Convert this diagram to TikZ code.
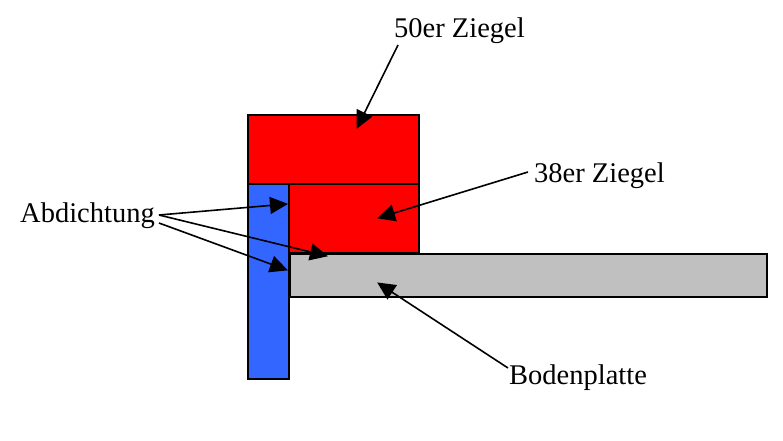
\documentclass[tikz,border=0pt]{standalone}
\usepackage{fontspec}
\setmainfont{Liberation Serif}
\usetikzlibrary{arrows.meta}
\tikzset{
 lbl/.style={inner sep=0pt,anchor=base west,font=\fontsize{28.5}{32}\selectfont},
 box/.style={draw=black,line width=2pt},
 arr/.style={draw=black,line width=1.6pt,-{Triangle[length=18pt,width=17pt]},shorten >=-1pt}
}
\begin{document}
\begin{tikzpicture}[x=1pt,y=-1pt]
\useasboundingbox (0,0) rectangle (783,440);
\fill[white] (0,0) rectangle (783,440);
\draw[box,fill={rgb,255:red,51;green,102;blue,255}] (247.5,183.5) rectangle (288.5,379);
\draw[box,fill=red] (248,115) rectangle (419,183.5);
\draw[box,fill=red] (289,183.5) rectangle (418.5,252.5);
\draw[box,fill={rgb,255:red,192;green,192;blue,192}] (289.5,254) rectangle (766.5,297);
\node[lbl] (z50) at (394,37) {50er Ziegel};
\node[lbl] (z38) at (534,182) {38er Ziegel};
\node[lbl] (abd) at (20,222) {Abdichtung};
\node[lbl] (bod) at (509,384) {Bodenplatte};
\coordinate (a50s) at (398,45);\coordinate (a50e) at (357,128);
\coordinate (a38s) at (528,172);\coordinate (a38e) at (378,218);
\coordinate (as) at (159,215);\coordinate (ast) at (159,223);
\coordinate (a1) at (287,204);\coordinate (a2) at (327,256);\coordinate (a3) at (287,270);
\coordinate (abs) at (508,368);\coordinate (abe) at (378,283);
\draw[arr] (a50s) -- (a50e);
\draw[arr] (a38s) -- (a38e);
\draw[arr] (as) -- (a1);
\draw[arr] (as) -- (a2);
\draw[arr] (ast) -- (a3);
\draw[arr] (abs) -- (abe);
\end{tikzpicture}
\end{document}
